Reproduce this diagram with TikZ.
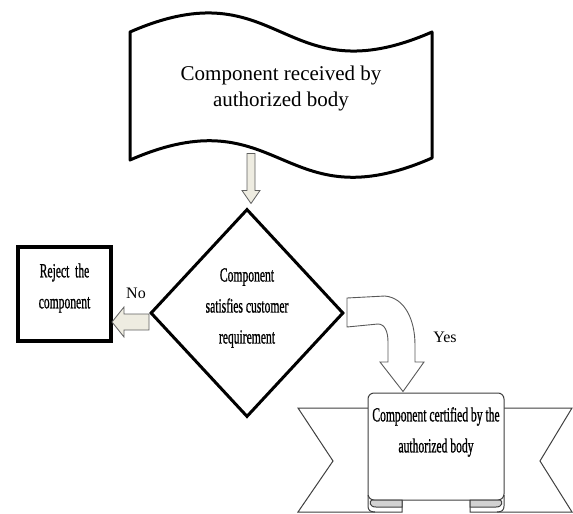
\documentclass[tikz,border=0pt]{standalone}
\usepackage{fontspec}
\setmainfont{Liberation Serif}
\newfontfamily\condfont[FakeBold=1.2]{Liberation Serif}
\usetikzlibrary{shapes.geometric}
\usetikzlibrary{calc}

\begin{document}
\begin{tikzpicture}[x=1pt, y=-1pt,
        outline/.style={draw=black, line width=3},
        blockarrow/.style={draw=gray!75!black, fill=arrowfill, line width=0.8},
        bendarrow/.style={draw=black!65, fill=white, line width=0.9},
        banner/.style={draw=black!75, fill=white, line width=1},
        cond/.style={font=\condfont\fontsize{20}{31}\selectfont, align=center, xscale=0.58},
        plain/.style={font=\fontsize{16}{18}\selectfont}]
        \definecolor{arrowfill}{HTML}{EEECE1}
        \useasboundingbox (0,0) rectangle (573,514);
        % wavy document shape at the top
        \draw [outline, line join=round] (130,32) .. controls (281,-34) and (281,98) .. (432,32)
              -- (432,158) .. controls (281,224) and (281,94) .. (130,160) -- cycle;
        \node [font=\fontsize{21}{26}\selectfont, align=center] (recv) at (281,88) {Component received by\\authorized body};
        % decision and reject box
        \node [diamond, outline, minimum width=193, minimum height=208, inner sep=0] (check) at (247,313) {};
        \node [cond] (checktext) at ([yshift=5]check.center) {Component\\satisfies customer\\requirement};
        \node [outline, line width=3.8, minimum width=93, minimum height=94, inner sep=0] (reject) at (64.5,294) {};
        \node [cond] (rejecttext) at ([yshift=6]reject.center) {Reject\ \ the\\component};
        % ribbon with the certificate
        \coordinate (cert) at (436,446.5);
        \draw [banner] (368,408) -- (298,408) -- (333,461) -- (298,512) -- (402,512) -- (402,500);
        \draw [banner] (504,408) -- (572,408) -- (540,461) -- (572,512) -- (470,512) -- (470,500);
        \node [banner, rounded corners=6, minimum width=136, minimum height=107, inner sep=0] (panel) at (cert) {};
        \filldraw [banner, fill=gray!35] (372,500) .. controls (369,501) and (369,507) .. (376,507) -- (402,507) -- (402,500) -- cycle;
        \draw [banner, fill=none] (368,495) -- (368,506) .. controls (368,510) and (370,512) .. (375,512);
        \filldraw [banner, fill=gray!35] (500,500) .. controls (503,501) and (503,507) .. (496,507) -- (470,507) -- (470,500) -- cycle;
        \draw [banner, fill=none] (504,495) -- (504,506) .. controls (504,510) and (502,512) .. (497,512);
        \node [cond] (certtext) at (436,432) {Component certified by the\\authorized body};
        % block arrows
        \draw [blockarrow] ($(check.north)+(4,-4)$) -- ++(-9,-13) -- ++(5,0) -- ++(0,-37) -- ++(8,0)
              -- ++(0,37) -- ++(5,0) -- cycle;
        \draw [blockarrow] ($(check.west)+(0,1)$) -- ++(-25,0) -- ++(0,-7) -- ++(-12,15) -- ++(12,15)
              -- ++(0,-7) -- ++(25,0) -- cycle;
        \draw [bendarrow] ($(check.east)+(2,-15)$) -- (385,296) .. controls (405,298) and (415,320) .. (415,345)
              -- (415,362) -- (424,362) -- ($(panel.north)+(-33,-1)$) -- (380,362) -- (388,362) -- (388,342)
              .. controls (388,332) and (385,324) .. (378,324) -- ($(check.east)+(2,14)$) -- cycle;
        \node [plain] (no) at (136,293) {No};
        \node [plain] (yes) at (445,337) {Yes};
      \end{tikzpicture}
\end{document}
